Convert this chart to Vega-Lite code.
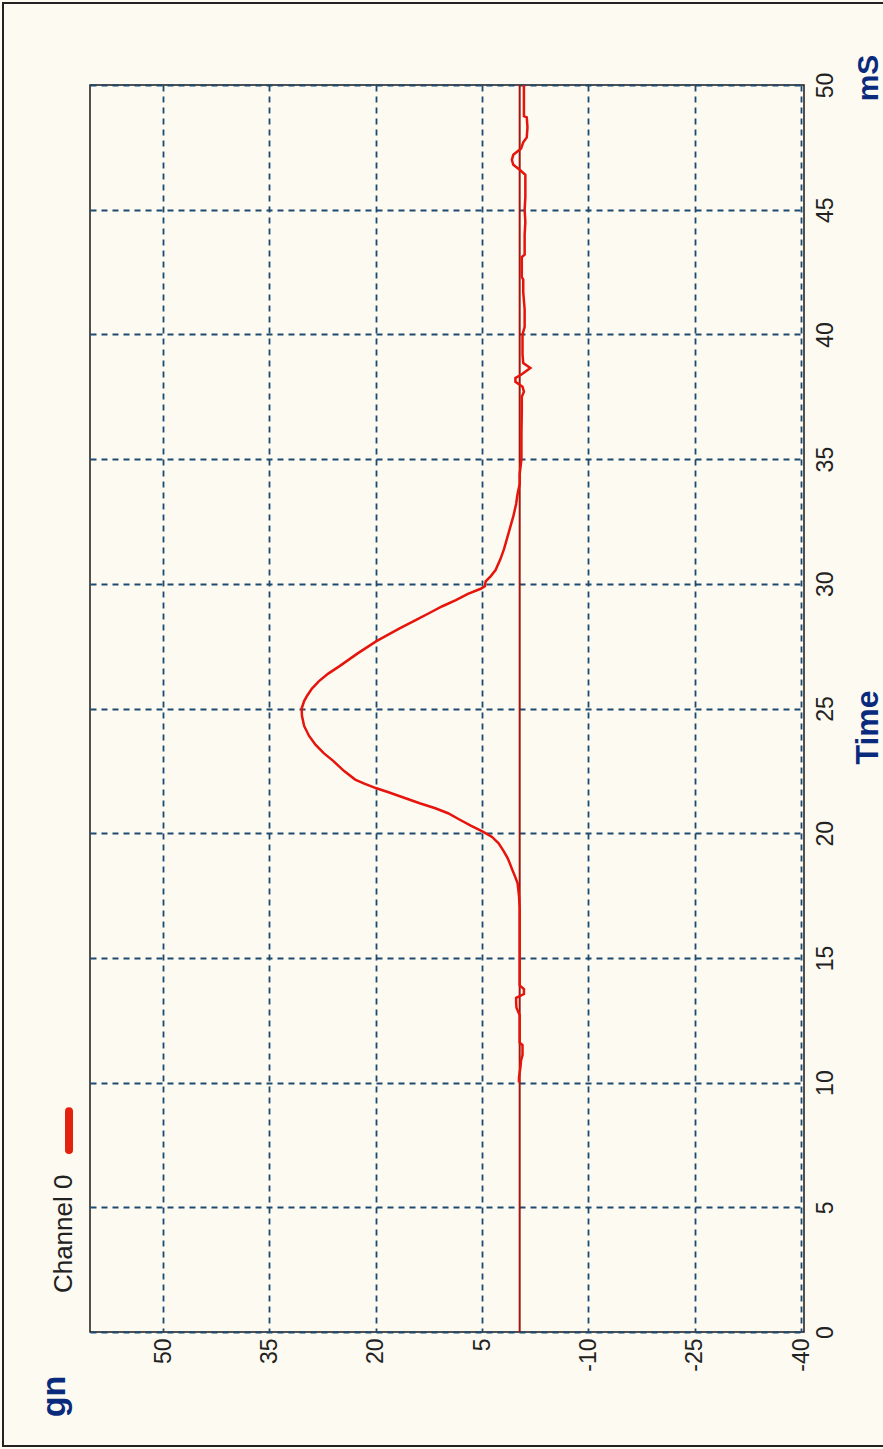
{
  "$schema": "https://vega.github.io/schema/vega-lite/v6.json",
  "width": 714,
  "height": 1247,
  "autosize": {"type": "none"},
  "padding": {"left": 90, "top": 85, "right": 79, "bottom": 117},
  "background": "#fcfaf1",
  "datasets": {
    "ref": [
      {"t": 0, "gn": -0.3},
      {"t": 50, "gn": -0.3}
    ],
    "trace": [
      {"t": 10.0, "gn": -0.2}, {"t": 10.2, "gn": -0.2}, {"t": 10.6, "gn": -0.4}, {"t": 10.9, "gn": -0.5},
      {"t": 11.1, "gn": -0.7}, {"t": 11.5, "gn": -0.7}, {"t": 11.6, "gn": -0.3}, {"t": 12.0, "gn": -0.3},
      {"t": 12.7, "gn": -0.3}, {"t": 13.0, "gn": 0.15}, {"t": 13.2, "gn": 0.2}, {"t": 13.4, "gn": 0.2},
      {"t": 13.55, "gn": -0.9}, {"t": 13.75, "gn": -0.9}, {"t": 13.9, "gn": -0.3}, {"t": 14.4, "gn": -0.3},
      {"t": 15.0, "gn": -0.3}, {"t": 16.0, "gn": -0.3}, {"t": 17.0, "gn": -0.3}, {"t": 17.5, "gn": -0.2},
      {"t": 18.0, "gn": 0.0}, {"t": 18.3, "gn": 0.4}, {"t": 18.5, "gn": 0.7}, {"t": 18.8, "gn": 1.1},
      {"t": 19.0, "gn": 1.4}, {"t": 19.3, "gn": 2.0}, {"t": 19.6, "gn": 2.7}, {"t": 19.85, "gn": 3.6},
      {"t": 20.06, "gn": 4.9}, {"t": 20.3, "gn": 6.6}, {"t": 20.55, "gn": 8.2}, {"t": 20.8, "gn": 9.8},
      {"t": 21.0, "gn": 11.6}, {"t": 21.2, "gn": 13.8}, {"t": 21.45, "gn": 16.3}, {"t": 21.65, "gn": 18.3},
      {"t": 21.8, "gn": 19.9}, {"t": 22.0, "gn": 21.7}, {"t": 22.15, "gn": 22.9}, {"t": 22.5, "gn": 24.5},
      {"t": 22.9, "gn": 26.0}, {"t": 23.2, "gn": 27.3}, {"t": 23.55, "gn": 28.5}, {"t": 23.9, "gn": 29.4},
      {"t": 24.3, "gn": 30.1}, {"t": 24.7, "gn": 30.4}, {"t": 25.0, "gn": 30.45}, {"t": 25.3, "gn": 30.1},
      {"t": 25.5, "gn": 29.7}, {"t": 25.8, "gn": 29.0}, {"t": 26.1, "gn": 28.0}, {"t": 26.4, "gn": 26.7},
      {"t": 26.7, "gn": 25.1}, {"t": 27.2, "gn": 22.6}, {"t": 27.7, "gn": 19.9}, {"t": 28.2, "gn": 16.7},
      {"t": 28.55, "gn": 14.3}, {"t": 28.85, "gn": 12.3}, {"t": 29.1, "gn": 10.6}, {"t": 29.35, "gn": 8.7},
      {"t": 29.6, "gn": 7.0}, {"t": 29.8, "gn": 5.2}, {"t": 29.9, "gn": 4.6}, {"t": 30.1, "gn": 4.5},
      {"t": 30.3, "gn": 3.8}, {"t": 30.55, "gn": 3.1}, {"t": 31.0, "gn": 2.4}, {"t": 31.4, "gn": 1.9},
      {"t": 32.0, "gn": 1.3}, {"t": 32.7, "gn": 0.6}, {"t": 33.2, "gn": 0.2}, {"t": 33.6, "gn": 0.0},
      {"t": 34.0, "gn": -0.3}, {"t": 34.4, "gn": -0.3}, {"t": 35.0, "gn": -0.55}, {"t": 36.0, "gn": -0.55},
      {"t": 37.0, "gn": -0.6}, {"t": 37.5, "gn": -0.6}, {"t": 37.7, "gn": -0.9}, {"t": 37.9, "gn": -0.7},
      {"t": 38.1, "gn": 0.3}, {"t": 38.25, "gn": 0.3}, {"t": 38.4, "gn": -0.6}, {"t": 38.65, "gn": -1.8},
      {"t": 38.85, "gn": -0.8}, {"t": 39.2, "gn": -0.7}, {"t": 40.0, "gn": -0.7}, {"t": 40.3, "gn": -1.0},
      {"t": 41.0, "gn": -1.0}, {"t": 41.7, "gn": -0.8}, {"t": 42.2, "gn": -0.8}, {"t": 42.3, "gn": -0.6},
      {"t": 43.1, "gn": -0.6}, {"t": 43.2, "gn": -1.0}, {"t": 44.0, "gn": -1.0}, {"t": 44.5, "gn": -1.1},
      {"t": 45.0, "gn": -1.0}, {"t": 45.5, "gn": -1.1}, {"t": 46.0, "gn": -1.1}, {"t": 46.4, "gn": -1.1},
      {"t": 46.6, "gn": -0.3}, {"t": 46.8, "gn": 0.6}, {"t": 47.0, "gn": 0.8}, {"t": 47.2, "gn": 0.6},
      {"t": 47.45, "gn": -0.5}, {"t": 47.7, "gn": -0.8}, {"t": 47.9, "gn": -1.3}, {"t": 48.3, "gn": -1.4},
      {"t": 48.7, "gn": -1.3}, {"t": 48.75, "gn": -0.9}, {"t": 49.5, "gn": -0.9}, {"t": 50.0, "gn": -0.9}
    ]
  },
  "layer": [
    {
      "data": {"name": "ref"},
      "mark": {"type": "line", "color": "#a3160f", "strokeWidth": 2},
      "encoding": {
        "x": {
          "field": "gn", "type": "quantitative",
          "scale": {"domain": [-40.4, 60.3], "reverse": true, "nice": false, "zero": false},
          "axis": {
            "title": "gn",
            "grid": true,
            "values": [-40, -25, -10, 5, 20, 35, 50],
            "labelExpr": "datum.value < 0 ? '-' + abs(datum.value) : '' + datum.value",
            "labelAngle": -90, "labelAlign": "right", "labelBaseline": "middle",
            "labelPadding": 6, "ticks": false, "domain": false,
            "titleAngle": -90, "titleX": -36, "titleY": 64,
            "titleAlign": "center", "titleBaseline": "middle",
            "titleFontSize": 34, "titleFontWeight": "bold", "titleColor": "#0a2a7d"
          }
        },
        "y": {
          "field": "t", "type": "quantitative",
          "scale": {"domain": [0, 50], "nice": false, "zero": false},
          "axis": {
            "orient": "right",
            "title": "Time",
            "grid": true,
            "values": [0, 5, 10, 15, 20, 25, 30, 35, 40, 45, 50],
            "labelAngle": -90, "labelAlign": "center", "labelBaseline": "top",
            "labelPadding": 10, "ticks": false, "domain": false,
            "titleAngle": -90, "titleX": 63, "titleY": 642,
            "titleAlign": "center", "titleBaseline": "middle",
            "titleFontSize": 32, "titleFontWeight": "bold", "titleColor": "#0a2a7d"
          }
        },
        "order": {"field": "t", "type": "quantitative"}
      }
    },
    {
      "data": {"name": "trace"},
      "mark": {"type": "line", "color": "#e5140c", "strokeWidth": 2.5},
      "encoding": {
        "x": {"field": "gn", "type": "quantitative", "scale": {"domain": [-40.4, 60.3], "reverse": true, "nice": false, "zero": false}},
        "y": {"field": "t", "type": "quantitative", "scale": {"domain": [0, 50], "nice": false, "zero": false}},
        "order": {"field": "t", "type": "quantitative"}
      }
    },
    {
      "data": {"values": [{"lbl": "mS"}]},
      "mark": {"type": "text", "angle": 270, "align": "center", "baseline": "middle", "fontSize": 30, "fontWeight": "bold", "font": "Liberation Sans", "color": "#0a2a7d"},
      "encoding": {
        "x": {"datum": -49.6, "type": "quantitative", "scale": {"domain": [-40.4, 60.3], "reverse": true, "nice": false, "zero": false}},
        "y": {"datum": 50.28, "type": "quantitative", "scale": {"domain": [0, 50], "nice": false, "zero": false}},
        "text": {"field": "lbl"}
      }
    },
    {
      "data": {"values": [{"series": "Channel 0"}]},
      "mark": {"type": "rule", "color": "#e3210f", "strokeWidth": 8, "strokeCap": "round"},
      "encoding": {
        "x": {"datum": 63.26, "type": "quantitative", "scale": {"domain": [-40.4, 60.3], "reverse": true, "nice": false, "zero": false}},
        "y": {"datum": 7.3, "type": "quantitative", "scale": {"domain": [0, 50], "nice": false, "zero": false}},
        "y2": {"datum": 8.85}
      }
    },
    {
      "data": {"values": [{"series": "Channel 0"}]},
      "mark": {"type": "text", "angle": 270, "align": "left", "baseline": "middle", "fontSize": 26, "font": "Liberation Sans", "color": "#222222"},
      "encoding": {
        "x": {"datum": 63.97, "type": "quantitative", "scale": {"domain": [-40.4, 60.3], "reverse": true, "nice": false, "zero": false}},
        "y": {"datum": 1.56, "type": "quantitative", "scale": {"domain": [0, 50], "nice": false, "zero": false}},
        "text": {"field": "series"}
      }
    },
    {
      "data": {"values": [{"frame": "outer"}]},
      "mark": {"type": "rect", "fill": null, "fillOpacity": 0, "stroke": "#222222", "strokeWidth": 2},
      "encoding": {
        "x": {"datum": 72.57, "type": "quantitative", "scale": {"domain": [-40.4, 60.3], "reverse": true, "nice": false, "zero": false}, "axis": {"grid": true}},
        "x2": {"datum": -53.5},
        "y": {"datum": 53.29, "type": "quantitative", "scale": {"domain": [0, 50], "nice": false, "zero": false}, "axis": {"grid": true}},
        "y2": {"datum": -4.57}
      }
    }
  ],
  "config": {
    "font": "Liberation Sans",
    "view": {"stroke": "#1a1a1a", "strokeWidth": 1.5},
    "axis": {
      "labelFont": "Liberation Sans",
      "labelFontSize": 23,
      "labelColor": "#222222",
      "titleFont": "Liberation Sans",
      "grid": true,
      "gridColor": "#1d4a70",
      "gridDash": [6, 5],
      "gridWidth": 1.8,
      "gridOpacity": 1
    }
  }
}
